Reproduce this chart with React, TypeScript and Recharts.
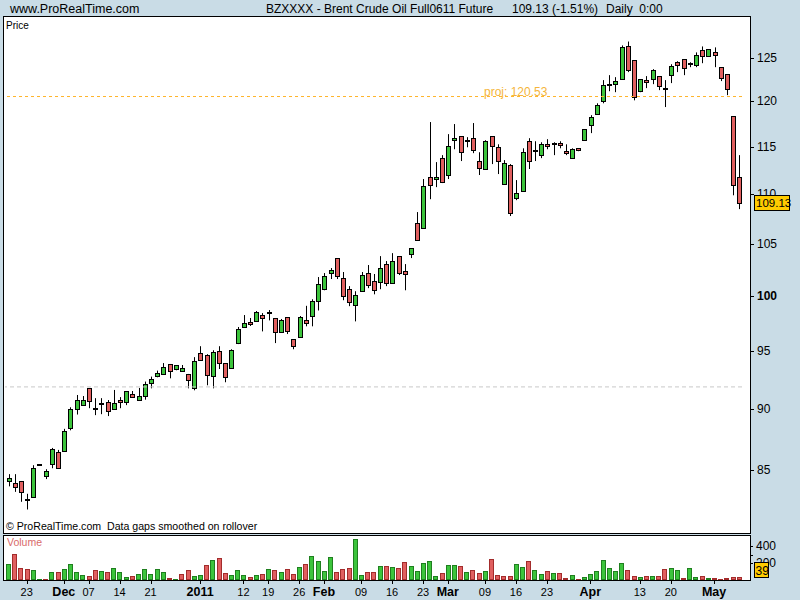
import { ComposedChart, Bar, XAxis, YAxis, ReferenceLine } from "recharts";

const FONT = "'Liberation Sans', Arial, Helvetica, sans-serif";
const GREEN = "#3cc43c";
const RED = "#e05f5f";

// daily bars, 18 Nov 2010 .. 6 May 2011 (index = bar number)
const opens = [
  84.17, 84.01, 84.17, 82.67, 82.94, 85.42, 84.55, 85.51, 86.49, 86.57,
  88.41, 90.0, 90.35, 91.81, 90.05, 90.43, 90.6, 90.0, 90.78, 90.6,
  91.29, 90.78, 91.09, 92.21, 92.82, 92.99, 93.89, 93.42, 93.25, 93.02,
  91.78, 94.84, 94.66, 92.82, 95.01, 93.97, 93.51, 95.74, 97.19, 97.65,
  97.74, 98.28, 98.43, 98.01, 96.74, 98.1, 96.1, 96.28, 97.83, 98.19,
  99.55, 100.68, 102.21, 103.65, 101.73, 100.68, 99.19, 100.49, 102.21, 101.45,
  101.35, 103.07, 101.25, 103.84, 102.4, 104.03, 107.1, 106.6, 111.8, 111.59,
  113.79, 112.01, 115.71, 116.15, 115.63, 115.93, 113.48, 112.64, 116.15, 114.95,
  111.06, 113.06, 109.61, 110.33, 115.6, 114.53, 114.11, 115.27, 115.27, 115.38,
  114.53, 113.79, 114.84, 115.71, 117.36, 118.56, 119.99, 121.85, 121.93, 122.51,
  126.3, 124.68, 121.13, 122.39, 122.51, 122.85, 121.42, 122.96, 124.45, 124.79,
  124.22, 124.11, 125.84, 125.14, 125.6, 123.88, 123.08, 118.34, 111.8,
];
const highs = [
  84.71, 84.71, 84.17, 83.17, 85.42, 85.42, 85.1, 86.81, 86.65, 88.37,
  90.17, 91.21, 91.12, 91.81, 90.94, 90.94, 90.78, 91.64, 91.03, 91.55,
  91.55, 91.81, 92.36, 92.79, 93.31, 93.97, 93.89, 93.8, 93.8, 93.02,
  94.49, 95.46, 94.75, 95.1, 95.46, 93.97, 95.19, 97.19, 98.28, 98.01,
  98.65, 98.46, 98.74, 98.01, 97.92, 98.1, 96.1, 98.19, 99.13, 99.74,
  101.83, 102.21, 102.69, 103.65, 102.31, 100.97, 100.49, 102.31, 102.98, 102.12,
  103.84, 103.36, 104.13, 103.84, 103.07, 104.61, 108.2, 111.59, 117.69, 113.37,
  114.11, 116.37, 117.47, 116.15, 116.04, 117.58, 114.42, 115.71, 116.15, 115.27,
  113.58, 113.16, 111.48, 114.84, 115.93, 115.6, 115.49, 115.82, 115.49, 115.6,
  115.27, 114.84, 114.84, 116.92, 118.45, 119.77, 122.39, 122.96, 122.73, 126.42,
  126.88, 124.68, 122.51, 122.85, 123.65, 122.85, 122.39, 124.22, 124.57, 124.79,
  124.45, 125.6, 126.3, 125.95, 126.19, 123.88, 123.08, 118.34, 114.11,
];
const lows = [
  83.75, 83.32, 82.55, 81.96, 82.94, 85.42, 84.32, 85.18, 85.18, 86.57,
  88.25, 89.56, 90.35, 90.09, 89.51, 89.59, 89.43, 90.0, 90.09, 90.35,
  91.03, 90.78, 90.81, 91.78, 92.73, 92.99, 92.64, 93.34, 93.25, 91.78,
  91.61, 94.23, 92.04, 91.78, 93.45, 92.3, 93.51, 95.65, 97.19, 97.28,
  97.65, 96.79, 97.79, 95.74, 96.74, 96.55, 95.19, 96.28, 97.25, 97.25,
  98.7, 100.58, 101.64, 101.64, 99.65, 99.1, 97.7, 100.49, 100.78, 100.2,
  100.68, 100.97, 101.25, 102.02, 100.58, 103.65, 105.39, 106.6, 109.51, 110.75,
  111.17, 111.59, 114.74, 113.48, 114.95, 114.32, 112.01, 112.64, 113.16, 112.11,
  111.06, 107.8, 109.41, 110.33, 112.64, 113.48, 113.79, 114.74, 114.11, 114.84,
  114.11, 113.79, 114.53, 115.71, 116.48, 118.56, 119.77, 121.13, 121.02, 122.51,
  123.31, 120.1, 121.02, 121.48, 121.93, 121.25, 119.35, 122.05, 123.31, 122.96,
  123.88, 123.88, 124.34, 125.14, 123.88, 122.28, 120.68, 109.91, 108.5,
];
const closes = [
  84.4, 83.71, 83.32, 82.67, 85.18, 85.42, 84.94, 86.73, 85.23, 88.2,
  90.0, 90.78, 90.8, 90.74, 90.05, 90.43, 89.84, 90.52, 90.6, 91.55,
  91.03, 91.12, 92.16, 92.59, 93.11, 93.63, 93.25, 93.8, 93.54, 92.5,
  94.15, 94.23, 92.9, 94.92, 93.97, 92.73, 95.1, 97.01, 97.55, 97.46,
  98.55, 98.01, 98.43, 96.74, 97.83, 96.83, 95.46, 98.1, 97.55, 99.55,
  101.16, 101.93, 102.5, 101.93, 100.01, 99.46, 100.11, 102.02, 101.06, 100.58,
  102.69, 101.25, 103.36, 102.21, 102.12, 104.61, 105.39, 110.85, 110.96, 111.8,
  111.27, 115.05, 115.93, 114.42, 115.63, 114.63, 112.74, 115.6, 115.05, 113.48,
  113.27, 108.1, 110.12, 114.42, 113.48, 114.53, 115.27, 115.05, 115.27, 115.16,
  114.32, 114.74, 114.63, 116.92, 118.23, 119.55, 121.8, 121.85, 122.28, 126.19,
  123.54, 120.45, 122.51, 122.16, 123.54, 121.7, 121.42, 123.99, 124.11, 123.76,
  124.22, 125.26, 125.14, 125.95, 125.26, 122.62, 121.36, 110.96, 109.13,
];
const volumes = [
  188, 306, 138, 126, 114, 12, 12, 91, 91, 126,
  188, 91, 55, 44, 114, 102, 91, 138, 91, 32,
  44, 67, 126, 67, 126, 91, 20, 8, 67, 114,
  44, 55, 173, 232, 255, 79, 55, 114, 55, 32,
  55, 67, 126, 114, 91, 126, 67, 149, 185, 279,
  220, 102, 267, 91, 126, 138, 479, 55, 91, 91,
  161, 161, 149, 138, 208, 161, 102, 196, 220, 44,
  79, 173, 173, 161, 91, 114, 79, 102, 243, 55,
  44, 44, 185, 149, 220, 114, 67, 102, 79, 79,
  20, 55, 8, 32, 67, 102, 232, 138, 102, 196,
  114, 44, 32, 44, 44, 44, 126, 138, 114, 20,
  138, 32, 44, 20, 20, 8, 20, 32, 39,
];

const tickIdx = [3, 9, 13, 18, 23, 31, 38, 42, 47, 51, 57, 62, 67, 71, 77, 82, 87, 94, 102, 107, 114];
const tickText = ["23", "Dec", "07", "14", "21", "2011", "12", "19", "26", "Feb", "09", "16", "23", "Mar", "09", "16", "23", "Apr", "13", "20", "May"];
const boldTicks = ["Dec", "2011", "Feb", "Mar", "Apr", "May"];
const priceTicks = [85, 90, 95, 100, 105, 110, 115, 120, 125];
const volTicks = [200, 300, 400];
const projLevel = 120.53;
const supportLevel = 91.9;
const lastPrice = 109.13;
const lastVolume = 39;

const data = opens.map((o, i) => ({
  i,
  o,
  c: closes[i],
  range: [lows[i], highs[i]],
  body: [Math.min(o, closes[i]), Math.max(o, closes[i])],
  v: volumes[i],
  up: i === 0 || closes[i] >= closes[i - 1],
}));

function Wick(props: any) {
  const { x, y, width, height } = props;
  const cx = Math.round(x + width / 2) + 0.5;
  const top = Math.min(y, y + height);
  const h = Math.abs(height);
  if (!(h > 0.5)) return null;
  return <line x1={cx} x2={cx} y1={top} y2={top + h} stroke="#000" strokeWidth={1} />;
}

function Body(props: any) {
  const { x, y, width, height, payload } = props;
  const cx = Math.round(x + width / 2);
  const top = Math.min(y, y + height);
  const h = Math.abs(height) || 0;
  if (payload.o === payload.c) {
    const yy = Math.round(top);
    return <line x1={cx - 2} x2={cx + 3} y1={yy} y2={yy} stroke="#000" strokeWidth={2} />;
  }
  const fill = payload.c > payload.o ? GREEN : RED;
  const t = Math.round(top) + 0.5;
  const b = Math.round(top + h) + 0.5;
  return <rect x={cx - 1.5} y={t} width={4} height={Math.max(b - t, 1)} fill={fill} stroke="#000" strokeWidth={1} />;
}

function VolBar(props: any) {
  const { x, y, width, height, payload } = props;
  const cx = Math.round(x + width / 2);
  const t = Math.round(y) + 0.5;
  const b = Math.round(y + height) - 0.5;
  return (
    <rect
      x={cx - 1.5}
      y={t}
      width={4}
      height={Math.max(b - t, 0.5)}
      fill={payload.up ? GREEN : RED}
      stroke={payload.up ? "#1f7f1f" : "#a32c2c"}
      strokeWidth={1}
    />
  );
}

function PriceTick(props: any) {
  const { y, payload } = props;
  const v = payload.value;
  if (v === lastPrice) {
    const yy = Math.round(y);
    return (
      <g>
        <rect x={754.5} y={yy - 7.5} width={35} height={15} fill="#ffcc00" stroke="#000" />
        <text x={756} y={yy + 4} fontSize={11.5} fontFamily={FONT} fill="#000">{v.toFixed(2)}</text>
      </g>
    );
  }
  return (
    <g>
      <line x1={750} x2={754} y1={Math.round(y) + 0.5} y2={Math.round(y) + 0.5} stroke="#000" />
      <text x={757} y={y + 4} fontSize={12} fontFamily={FONT} fontWeight={v === 100 ? "bold" : "normal"} fill="#000">
        {v}
      </text>
    </g>
  );
}

function VolTick(props: any) {
  const { y, payload } = props;
  const v = payload.value;
  if (v === lastVolume) {
    return (
      <g>
        <rect x={754.5} y={562.5} width={14} height={15} fill="#ffcc00" stroke="#000" />
        <text x={755.5} y={574.5} fontSize={12} fontFamily={FONT} fill="#000">{v}</text>
      </g>
    );
  }
  return (
    <g>
      <line x1={750} x2={753} y1={Math.round(y) + 0.5} y2={Math.round(y) + 0.5} stroke="#000" />
      {v !== 300 && (
        <text x={756} y={y + 4} fontSize={12} fontFamily={FONT} fill="#000">{v}</text>
      )}
    </g>
  );
}

function DateTick(props: any) {
  const { x, payload } = props;
  const label = tickText[tickIdx.indexOf(payload.value)];
  const bold = boldTicks.includes(label);
  const xx = Math.round(x) + 0.5;
  return (
    <g>
      <line x1={xx} x2={xx} y1={580} y2={584} stroke="#000" />
      <text x={x} y={596} textAnchor="middle" fontSize={bold ? 12.5 : 11} fontWeight={bold ? "bold" : "normal"} fontFamily={FONT} fill="#000">
        {label}
      </text>
    </g>
  );
}

const ProjLabel = (props: any) => {
  const vb = props.viewBox || {};
  return (
    <text x={484} y={(vb.y || 0) - 1} fontSize={12} fontFamily={FONT} fill="#f5b53a">
      proj: {projLevel}
    </text>
  );
};

export default function App() {
  return (
    <div style={{ position: "absolute", left: 0, top: 0, width: 800, height: 600, background: "#c9dce6", overflow: "hidden" }}>
      <div style={{ position: "absolute", left: 3, top: 16, width: 748, height: 518, background: "#fff", border: "1px solid #000", boxSizing: "border-box" }} />
      <div style={{ position: "absolute", left: 3, top: 535, width: 748, height: 46, background: "#fff", border: "1px solid #000", boxSizing: "border-box" }} />

      <div style={{ position: "absolute", left: 0, top: 0 }}>
        <ComposedChart width={800} height={600} data={data} margin={{ top: 18, right: 0, bottom: 67, left: 5 }}>
          <XAxis xAxisId="w" dataKey="i" hide />
          <XAxis xAxisId="b" dataKey="i" hide />
          <YAxis
            orientation="right"
            width={58}
            scale="log"
            domain={[80.18, 129.7]}
            allowDataOverflow
            ticks={[...priceTicks, lastPrice]}
            interval={0}
            axisLine={false}
            tickLine={false}
            tick={PriceTick}
          />
          <ReferenceLine xAxisId="w" y={supportLevel} stroke="#c8c8c8" strokeDasharray="4 3" />
          <ReferenceLine xAxisId="w" y={projLevel} stroke="#ffb42a" strokeDasharray="3 3" label={ProjLabel} />
          <Bar xAxisId="w" dataKey="range" barSize={1} shape={Wick} isAnimationActive={false} />
          <Bar xAxisId="b" dataKey="body" barSize={5} shape={Body} isAnimationActive={false} />
        </ComposedChart>
      </div>

      <div style={{ position: "absolute", left: 0, top: 0 }}>
        <ComposedChart width={800} height={600} data={data} margin={{ top: 536, right: 0, bottom: 0, left: 5 }}>
          <XAxis
            dataKey="i"
            height={20}
            ticks={tickIdx}
            interval={0}
            axisLine={false}
            tickLine={false}
            tick={DateTick}
          />
          <YAxis
            orientation="right"
            width={58}
            domain={[0, 518]}
            allowDataOverflow
            ticks={[...volTicks, lastVolume]}
            interval={0}
            axisLine={false}
            tickLine={false}
            tick={VolTick}
          />
          <Bar dataKey="v" barSize={4} shape={VolBar} isAnimationActive={false} />
        </ComposedChart>
      </div>

      <svg width={800} height={600} style={{ position: "absolute", left: 0, top: 0, pointerEvents: "none" }}>
        <text x={10} y={13} fontSize={12.5} fontFamily={FONT} fill="#000">www.ProRealTime.com</text>
        <text x={266} y={13} fontSize={12} fontFamily={FONT} fill="#000">BZXXXX - Brent Crude Oil Full0611 Future</text>
        <text x={512} y={13} fontSize={12} fontFamily={FONT} fill="#000">109.13 (-1.51%)</text>
        <text x={606} y={13} fontSize={12} fontFamily={FONT} fill="#000" xmlSpace="preserve">{"Daily  0:00"}</text>
        <text x={6} y={29} fontSize={10} fontFamily={FONT} fill="#000">Price</text>
        <text x={6} y={530} fontSize={10.6} fontFamily={FONT} fill="#000" xmlSpace="preserve">{"© ProRealTime.com  Data gaps smoothed on rollover"}</text>
        <text x={7} y={546} fontSize={10.5} fontFamily={FONT} fill="#d96a6a">Volume</text>
      </svg>
    </div>
  );
}
